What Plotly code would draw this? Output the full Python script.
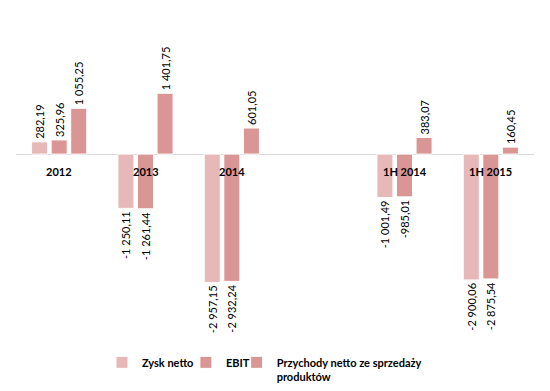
import plotly.graph_objects as go

categories = ["2012", "2013", "2014", " ", "1H 2014", "1H 2015"]
zysk_netto = [282.19, -1250.11, -2957.15, None, -1001.49, -2900.06]
ebit = [325.96, -1261.44, -2932.24, None, -985.01, -2875.54]
przychody = [1055.25, 1401.75, 601.05, None, 383.07, 160.45]

series_names = ["Zysk netto", "EBIT", "Przychody netto ze sprzedaży<br>produktów"]
colors = ["#E6B9B8", "#D99694", "#D99694"]
legend_ids = ["legend", "legend2", "legend3"]
legend_x = [0.166, 0.328, 0.426]


def fmt(v):
    if v is None:
        return ""
    s = f"{abs(v):,.2f}".replace(",", " ").replace(".", ",")
    return ("-" if v < 0 else "") + s


FONT = "Lato, Carlito, sans-serif"

fig = go.Figure()
for name, vals, col, lg in zip(series_names, [zysk_netto, ebit, przychody], colors, legend_ids):
    fig.add_trace(go.Bar(
        x=categories, y=vals, name=name, legend=lg,
        marker=dict(color=col, line=dict(color="white", width=1)),
        text=[fmt(v) for v in vals], textposition="outside", textangle=-90,
        textfont=dict(family=FONT, size=11, color="black"),
        constraintext="none", cliponaxis=False,
    ))

for i, c in enumerate(categories):
    if c.strip():
        fig.add_annotation(x=i, y=0, text="<b>" + c + "</b>", showarrow=False,
                           yanchor="top", yshift=-9,
                           font=dict(family=FONT, size=11, color="black"))

legend_common = dict(orientation="h", xanchor="left", y=-0.103, yanchor="top",
                     valign="top", itemwidth=30, bgcolor="rgba(0,0,0,0)",
                     font=dict(family=FONT, size=11, color="black", weight="bold"))

fig.update_layout(
    width=550, height=391,
    margin=dict(l=8, r=24, t=12, b=79),
    paper_bgcolor="white", plot_bgcolor="white",
    barmode="group", bargap=0.32, bargroupgap=0.18,
    showlegend=True,
    legend=dict(x=legend_x[0], **legend_common),
    legend2=dict(x=legend_x[1], **legend_common),
    legend3=dict(x=legend_x[2], **legend_common),
    xaxis=dict(type="category", categoryorder="array", categoryarray=categories,
               range=[-0.5, 5.5],
               showticklabels=False, showgrid=False, showline=False, ticks=""),
    yaxis=dict(range=[-3776, 3089], showticklabels=False, showgrid=False,
               zeroline=True, zerolinecolor="#D9D9D9", zerolinewidth=1),
)

fig.write_html("out.html")
